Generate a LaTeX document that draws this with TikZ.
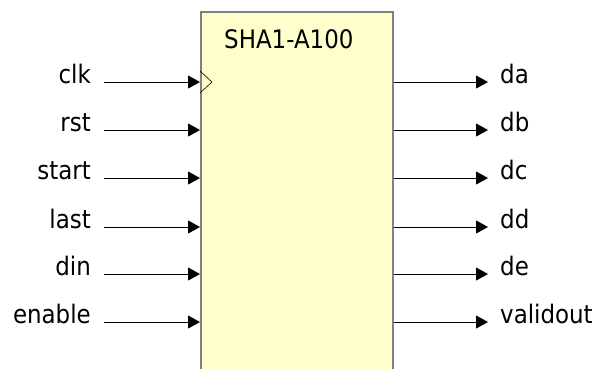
\documentclass[tikz,border=0pt]{standalone}
\usepackage{fontspec}
\setmainfont{DejaVu Sans Condensed}
\usetikzlibrary{arrows.meta,positioning}
\definecolor{BlockFill}{RGB}{255,255,204}
\definecolor{BlockLine}{RGB}{128,128,128}

\begin{document}
\begin{tikzpicture}[x=1pt, y=-1pt,
	font=\fontsize{25.5}{30}\selectfont,
	port/.style={-{Triangle[length=12pt,width=13pt]}, line width=1pt},
	block/.style={draw=BlockLine, fill=BlockFill, line width=1.5pt,
		minimum width=192pt, minimum height=380pt, inner sep=0pt, anchor=north west}]
		\useasboundingbox (0,0) rectangle (597,368);
		\node[block] (sha) at (200,11) {};
		\node[anchor=base west, inner sep=0pt] (title) at (224,48) {SHA1-A100};
		% inputs
		\foreach \sig/\yy in {clk/82, rst/130, start/178, last/227, din/274, enable/322} {
			\coordinate (\sig-in) at (104,\yy);
			\coordinate (\sig-pin) at (sha.west |- \sig-in);
			\node[anchor=base east, inner sep=0pt] (\sig) at (91,\yy+1) {\sig};
			\draw[port] (\sig-in) -- (\sig-pin);
		}
		% clock mark
		\draw[line width=0.6pt] (clk-pin) ++(0,-11) -- ++(12,11) -- ++(-12,11);
		% outputs
		\foreach \sig/\yy in {da/82, db/130, dc/178, dd/227, de/274, validout/322} {
			\coordinate (\sig-pin) at (sha.east |- 0,\yy);
			\coordinate (\sig-out) at (488,\yy);
			\node[anchor=base west, inner sep=0pt] (\sig) at (500,\yy+1) {\sig};
			\draw[port] (\sig-pin) -- (\sig-out);
		}
	\end{tikzpicture}
\end{document}
